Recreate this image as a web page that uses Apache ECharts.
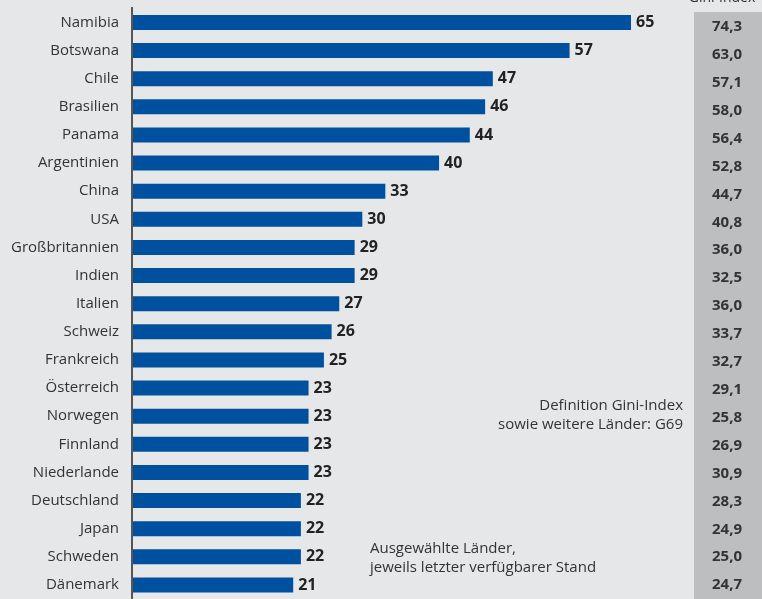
<!DOCTYPE html>
<html>
<head>
<meta charset="utf-8">
<script src="https://cdn.jsdelivr.net/npm/echarts@6/dist/echarts.min.js"></script>
<style>
  html, body { margin: 0; padding: 0; background: #e6e7e8; }
  #chart { width: 762px; height: 599px; }
</style>
</head>
<body>
<div id="chart"></div>
<script>
var laender = ['Namibia', 'Botswana', 'Chile', 'Brasilien', 'Panama', 'Argentinien', 'China', 'USA',
  'Großbritannien', 'Indien', 'Italien', 'Schweiz', 'Frankreich', 'Österreich', 'Norwegen',
  'Finnland', 'Niederlande', 'Deutschland', 'Japan', 'Schweden', 'Dänemark'];
var werte = [65, 57, 47, 46, 44, 40, 33, 30, 29, 29, 27, 26, 25, 23, 23, 23, 23, 22, 22, 22, 21];
var giniIndex = ['74,3', '63,0', '57,1', '58,0', '56,4', '52,8', '44,7', '40,8', '36,0', '32,5', '36,0',
  '33,7', '32,7', '29,1', '25,8', '26,9', '30,9', '28,3', '24,9', '25,0', '24,7'];

var dom = document.getElementById('chart');
var chart = echarts.init(dom, null, { renderer: 'canvas' });
var fontFam = '"Open Sans", "Noto Sans", sans-serif';

var option = {
  backgroundColor: '#e6e7e8',
  animation: false,
  textStyle: { fontFamily: fontFam },
  graphic: [
    {
      type: 'rect',
      z: 0,
      shape: { x: 694, y: 12, width: 68, height: 587 },
      style: { fill: '#bdbec0' }
    },
    {
      type: 'text',
      x: 722, y: -9,
      style: { text: 'Gini-Index', font: '14px ' + fontFam, fill: '#333', align: 'center' }
    },
    {
      type: 'text',
      x: 683, y: 396,
      style: {
        text: 'Definition Gini-Index\nsowie weitere Länder: G69',
        font: '15px ' + fontFam, fill: '#333', align: 'right', lineHeight: 19
      }
    },
    {
      type: 'text',
      x: 370, y: 539,
      style: {
        text: 'Ausgewählte Länder,\njeweils letzter verfügbarer Stand',
        font: '15px ' + fontFam, fill: '#333', align: 'left', lineHeight: 19
      }
    }
  ],
  grid: [
    { left: 132, top: 8.4, width: 499, height: 591 },
    { left: 132, top: 13, width: 499, height: 591 }
  ],
  xAxis: [
    { type: 'value', min: 0, max: 65, show: false, gridIndex: 0 },
    { type: 'value', min: 0, max: 65, show: false, gridIndex: 1 }
  ],
  yAxis: [
    {
      type: 'category',
      gridIndex: 0,
      data: laender,
      inverse: true,
      axisLine: { show: false },
      axisTick: { show: false },
      axisLabel: { margin: 13, fontSize: 15, color: '#333', fontFamily: fontFam }
    },
    {
      type: 'category',
      gridIndex: 1,
      data: giniIndex,
      inverse: true,
      position: 'right',
      offset: 96,
      axisLine: { show: false },
      axisTick: { show: false },
      axisLabel: { margin: 0, align: 'center', fontSize: 15, fontWeight: 'bold', color: '#333', fontFamily: fontFam }
    }
  ],
  series: [
    {
      type: 'bar',
      data: werte,
      barWidth: 15,
      itemStyle: { color: '#0050a0' },
      label: {
        show: true,
        position: 'right',
        distance: 5,
        fontSize: 16,
        fontWeight: 'bold',
        color: '#222',
        fontFamily: fontFam
      },
      markLine: {
        silent: true,
        symbol: 'none',
        label: { show: false },
        lineStyle: { color: '#555', width: 2, type: 'solid' },
        data: [[{ coord: [0, -0.05], y: 7 }, { coord: [0, 20.5], y: 599 }]]
      }
    }
  ]
};

chart.setOption(option);
window.onresize = function () {
  chart.resize();
};
</script>
</body>
</html>
